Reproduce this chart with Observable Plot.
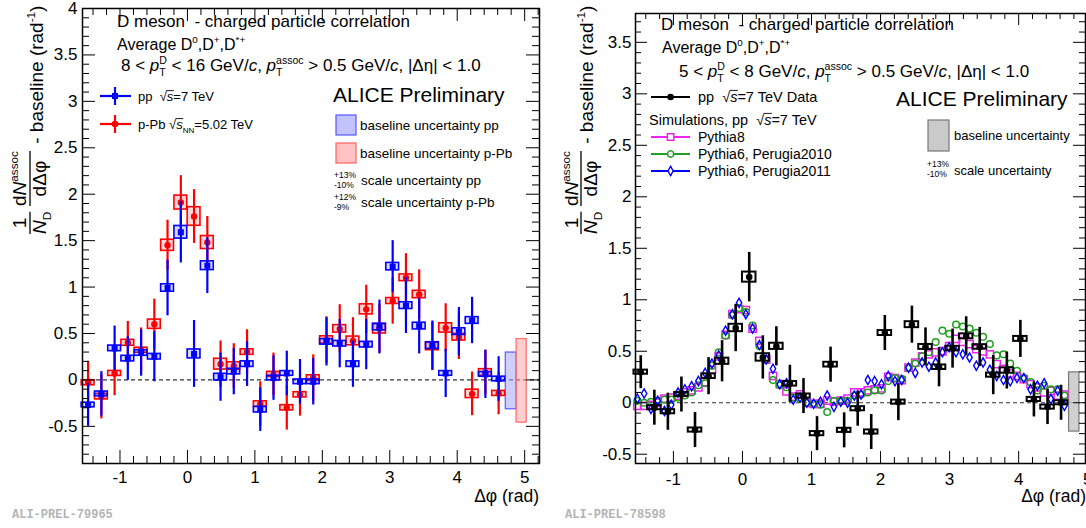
<!DOCTYPE html>
<html><head><meta charset="utf-8">
<script src="https://cdn.jsdelivr.net/npm/d3@7"></script>
<script src="https://cdn.jsdelivr.net/npm/@observablehq/plot@0.6"></script>
<style>
body{margin:0;background:#fff}
#wrap{display:flex;width:1086px;height:528px;overflow:hidden;background:#fff}
#wrap svg{display:block;flex:none}
</style></head><body><div id="wrap"></div>
<script>
// ---------------- data ----------------
const dphiBins = [-1.473,-1.276,-1.080,-0.884,-0.687,-0.491,-0.295,-0.098,0.098,0.295,0.491,0.687,0.884,1.080,1.276,1.473,1.669,1.865,2.062,2.258,2.454,2.651,2.847,3.043,3.240,3.436,3.632,3.829,4.025,4.221,4.418,4.614];
const dphiFine = [-1.522,-1.424,-1.325,-1.227,-1.129,-1.031,-0.933,-0.834,-0.736,-0.638,-0.540,-0.442,-0.344,-0.245,-0.147,-0.049,0.049,0.147,0.245,0.344,0.442,0.540,0.638,0.736,0.834,0.933,1.031,1.129,1.227,1.325,1.424,1.522,1.620,1.718,1.816,1.914,2.013,2.111,2.209,2.307,2.405,2.503,2.602,2.700,2.798,2.896,2.994,3.093,3.191,3.289,3.387,3.485,3.583,3.682,3.780,3.878,3.976,4.074,4.172,4.271,4.369,4.467,4.565,4.663];

// left panel: 8 < pT(D) < 16 GeV/c
const ppY    = [-0.27,-0.15,0.34,0.23,0.29,0.25,0.99,1.59,0.28,1.23,0.03,0.09,0.17,-0.32,0.02,0.07,-0.02,-0.02,0.41,0.39,0.17,0.38,0.57,1.22,0.80,0.58,0.37,0.07,0.52,0.64,0.06,0.01];
const ppStat = [0.23,0.24,0.24,0.235,0.25,0.27,0.30,0.33,0.36,0.30,0.26,0.25,0.24,0.235,0.24,0.24,0.24,0.25,0.26,0.26,0.25,0.27,0.29,0.28,0.30,0.30,0.265,0.26,0.26,0.25,0.26,0.24];
const ppSys  = [0.025,0.025,0.03,0.03,0.03,0.03,0.04,0.068,0.048,0.047,0.036,0.03,0.03,0.03,0.025,0.025,0.025,0.025,0.03,0.03,0.03,0.03,0.036,0.04,0.036,0.036,0.036,0.025,0.036,0.036,0.025,0.025];
const pPbY    = [-0.03,-0.18,0.07,0.40,0.32,0.60,1.45,1.91,1.76,1.48,0.17,0.15,0.30,-0.26,0.06,-0.30,-0.16,0.02,0.43,0.55,0.42,0.76,0.55,0.85,1.10,0.92,0.36,0.56,0.46,-0.15,0.08,-0.145];
const pPbStat = [0.23,0.24,0.24,0.23,0.24,0.27,0.27,0.29,0.29,0.28,0.25,0.24,0.24,0.24,0.23,0.24,0.23,0.25,0.25,0.26,0.25,0.26,0.26,0.25,0.26,0.265,0.26,0.26,0.24,0.235,0.24,0.23];
const pPbSys  = [0.027,0.03,0.027,0.032,0.027,0.05,0.06,0.075,0.10,0.07,0.058,0.04,0.03,0.03,0.027,0.028,0.028,0.03,0.04,0.04,0.047,0.054,0.05,0.032,0.036,0.04,0.04,0.05,0.036,0.045,0.036,0.027];
const baselineBandsL = [
  {name: "pp",   x1: 4.72, x2: 4.88, y1: -0.316, y2: 0.295},
  {name: "p-Pb", x1: 4.88, x2: 5.03, y1: -0.46,  y2: 0.44}
];

// right panel: 5 < pT(D) < 8 GeV/c
const dataY    = [0.297,-0.048,-0.087,0.08,-0.265,0.258,0.403,0.726,1.22,0.44,0.548,0.184,0.065,-0.30,0.37,-0.268,-0.058,-0.284,0.677,0.006,0.758,0.542,0.345,0.526,0.645,0.542,0.268,0.313,0.62,0.032,-0.042,0.0];
const dataStat = [0.16,0.17,0.18,0.17,0.17,0.18,0.20,0.23,0.24,0.21,0.19,0.18,0.17,0.165,0.17,0.17,0.17,0.17,0.17,0.18,0.18,0.185,0.19,0.19,0.19,0.19,0.19,0.18,0.18,0.17,0.17,0.17];
const dataSys  = [0.02,0.02,0.02,0.02,0.02,0.023,0.03,0.036,0.049,0.036,0.03,0.022,0.02,0.02,0.023,0.02,0.02,0.02,0.024,0.02,0.029,0.024,0.022,0.022,0.024,0.022,0.02,0.026,0.024,0.02,0.02,0.02];
const pythia8     = [-0.03,-0.03,-0.02,0.00,0.04,0.05,0.07,0.10,0.12,0.15,0.20,0.32,0.45,0.66,0.86,0.91,0.90,0.72,0.60,0.42,0.26,0.18,0.11,0.06,0.08,0.00,-0.01,-0.01,0.02,0.01,0.02,0.04,0.10,0.10,0.12,0.13,0.14,0.25,0.24,0.22,0.34,0.39,0.45,0.47,0.49,0.50,0.55,0.62,0.59,0.57,0.52,0.50,0.47,0.375,0.33,0.285,0.26,0.23,0.18,0.15,0.10,0.116,0.07,0.078];
const perugia2010 = [0.02,0.00,0.01,0.02,0.03,0.03,0.05,0.07,0.10,0.17,0.19,0.36,0.49,0.65,0.85,0.92,0.88,0.75,0.55,0.42,0.22,0.17,0.15,0.05,0.04,0.00,-0.01,-0.02,-0.09,0.02,0.02,0.02,0.07,0.08,0.10,0.12,0.12,0.21,0.24,0.23,0.34,0.38,0.45,0.49,0.59,0.70,0.67,0.76,0.74,0.72,0.68,0.64,0.57,0.46,0.47,0.38,0.31,0.24,0.20,0.12,0.165,0.13,0.13,0.07];
const perugia2011 = [0.04,0.09,-0.06,0.02,-0.08,-0.02,0.10,0.13,0.16,0.21,0.29,0.38,0.46,0.70,0.86,0.97,0.86,0.72,0.56,0.42,0.33,0.18,0.19,0.03,0.05,0.00,-0.01,0.01,0.07,-0.04,0.01,0.00,0.07,0.08,0.22,0.21,0.18,0.26,0.21,0.22,0.34,0.29,0.39,0.35,0.39,0.49,0.54,0.49,0.47,0.44,0.36,0.39,0.32,0.26,0.22,0.21,0.24,0.24,0.13,0.165,0.19,0.036,0.116,-0.03];
const baselineBandR = [{x1: 4.73, x2: 4.88, y1: -0.28, y2: 0.295}];

// tick labels
const xTickLabels  = [-1, 0, 1, 2, 3, 4, 5];
const yTickLabelsL = [-0.5, 0, 0.5, 1, 1.5, 2, 2.5, 3, 3.5, 4];
const yTickLabelsR = [-0.5, 0, 0.5, 1, 1.5, 2, 2.5, 3, 3.5];

// ---------------- helpers ----------------
const FONT = "'Liberation Sans', Arial, Helvetica, sans-serif";
const cv = document.createElement("canvas").getContext("2d");
function tw(t, size, italic) { cv.font = `${italic ? "italic " : ""}${size}px 'Liberation Sans'`; return cv.measureText(t).width; }
function rich(parent, x, y, segs, size, opts = {}) {
  const items = []; let cx = 0;
  for (let seg of segs) {
    if (typeof seg === "string") seg = {t: seg};
    if (seg.sup !== undefined || seg.sub !== undefined) {
      const ss = size * (seg.s || 0.62); let w = 0;
      if (seg.sup) { items.push({t: seg.sup, x: cx, dy: -size * 0.42, size: ss}); w = Math.max(w, tw(seg.sup, ss)); }
      if (seg.sub) { items.push({t: seg.sub, x: cx, dy: size * 0.27, size: ss}); w = Math.max(w, tw(seg.sub, ss)); }
      cx += w;
    } else {
      const sz = size * (seg.s || 1);
      const w = tw(seg.t, sz, seg.it);
      items.push({t: seg.t, x: cx, dy: 0, size: sz, it: seg.it, over: seg.over, w});
      cx += w;
    }
  }
  const off = opts.anchor === "end" ? -cx : opts.anchor === "middle" ? -cx / 2 : 0;
  const text = parent.append("text").attr("fill", opts.fill || "black").attr("font-family", opts.family || FONT)
    .attr("text-anchor", "start").attr("font-weight", opts.weight || null).style("white-space", "pre");
  for (const it of items) {
    text.append("tspan").attr("x", x + off + it.x).attr("y", y + it.dy).attr("font-size", it.size)
      .attr("text-anchor", "start").attr("font-style", it.it ? "italic" : null).text(it.t);
    if (it.over) {
      parent.append("line").attr("x1", x + off + it.x - 0.5).attr("x2", x + off + it.x + it.w + 0.5)
        .attr("y1", y - it.size * 0.8).attr("y2", y - it.size * 0.8).attr("stroke", opts.fill || "black").attr("stroke-width", 0.9);
    }
  }
  return cx;
}
const sqrtS = (sub) => ["√", {t: "s", it: true, over: true}].concat(sub ? [{sub}] : []);

function yTitle(g, yStart, xMain, xNum, xBar, xDen, fs) {
  const t = g.append("g").attr("transform", `translate(0,${yStart}) rotate(-90)`);
  const w1n = tw("1", fs), w1d = tw("N", fs, true) + tw("D", fs * 0.62);
  const w1 = Math.max(w1n, w1d);
  rich(t, (w1 - w1n) / 2, xNum, ["1"], fs);
  rich(t, (w1 - w1d) / 2, xDen, [{t: "N", it: true}, {sub: "D"}], fs);
  t.append("line").attr("x1", 0).attr("x2", w1).attr("y1", xBar).attr("y2", xBar).attr("stroke", "black").attr("stroke-width", 1.3);
  const x2 = w1 + fs * 0.3;
  const w2n = tw("d", fs) + tw("N", fs, true) + tw("assoc", fs * 0.62);
  const w2d = tw("dΔφ", fs);
  const w2 = Math.max(w2n, w2d);
  rich(t, x2 + (w2 - w2n) / 2, xNum, ["d", {t: "N", it: true}, {sup: "assoc"}], fs);
  rich(t, x2 + (w2 - w2d) / 2, xDen, ["dΔφ"], fs);
  t.append("line").attr("x1", x2).attr("x2", x2 + w2).attr("y1", xBar).attr("y2", xBar).attr("stroke", "black").attr("stroke-width", 1.3);
  rich(t, x2 + w2 + 2, xMain, [" - baseline (rad", {sup: "-1"}, ")"], fs);
}
function sym(g, type, x, y, size, fill, stroke) {
  g.append("path").attr("d", d3.symbol(type, size)()).attr("transform", `translate(${x},${y})`)
    .attr("fill", fill).attr("stroke", stroke || "none").attr("stroke-width", 1.4);
}
function hline(g, x1, x2, y, c, w) { g.append("line").attr("x1", x1).attr("x2", x2).attr("y1", y).attr("y2", y).attr("stroke", c).attr("stroke-width", w); }
function vline(g, x, y1, y2, c, w) { g.append("line").attr("x1", x).attr("x2", x).attr("y1", y1).attr("y2", y2).attr("stroke", c).attr("stroke-width", w); }

function frameTicks(xMajor, xMinor, yMajor, yMinor, pw, ph, lenMaj, lenMin) {
  return [
    Plot.tickX(xMajor, {x: d => d, insetTop: ph - lenMaj, stroke: "black"}),
    Plot.tickX(xMinor, {x: d => d, insetTop: ph - lenMin, stroke: "black"}),
    Plot.tickX(xMajor, {x: d => d, insetBottom: ph - lenMaj, stroke: "black"}),
    Plot.tickX(xMinor, {x: d => d, insetBottom: ph - lenMin, stroke: "black"}),
    Plot.tickY(yMajor, {y: d => d, insetRight: pw - lenMaj, stroke: "black"}),
    Plot.tickY(yMinor, {y: d => d, insetRight: pw - lenMin, stroke: "black"}),
    Plot.tickY(yMajor, {y: d => d, insetLeft: pw - lenMaj, stroke: "black"}),
    Plot.tickY(yMinor, {y: d => d, insetLeft: pw - lenMin, stroke: "black"})
  ];
}
const isMajor = (v, step) => Math.abs(v / step - Math.round(v / step)) < 1e-6;

// ---------------- left panel ----------------
const H = 528;
const L = {w: 546, ml: 82, mr: 7, mt: 8, mb: 65, xd: [-1.556, 5.22], yd: [-0.9, 4]};
const ppData  = dphiBins.map((x, i) => ({x, y: ppY[i],  e: ppStat[i],  s: ppSys[i]}));
const pPbData = dphiBins.map((x, i) => ({x, y: pPbY[i], e: pPbStat[i], s: pPbSys[i]}));
const HW = 0.095;
const xMinorL = d3.range(-1.4, 5.21, 0.2).map(v => +v.toFixed(2)).filter(v => !isMajor(v, 1));
const yMinorL = d3.range(-0.8, 3.95, 0.1).map(v => +v.toFixed(2)).filter(v => !isMajor(v, 0.5));

const legendL = () => {
  const g = d3.create("svg:g");
  rich(g, 117, 27, ["D meson  - charged particle correlation"], 17);
  rich(g, 117, 50, ["Average D", {sup: "0"}, ",D", {sup: "+"}, ",D", {sup: "*+"}], 16);
  rich(g, 121, 71, ["8 < ", {t: "p", it: true}, {sup: "D", sub: "T"}, " < 16 GeV/", {t: "c", it: true}, ", ",
    {t: "p", it: true}, {sup: "assoc", sub: "T"}, " > 0.5 GeV/", {t: "c", it: true}, ", |Δη| < 1.0"], 17);
  // pp entry
  hline(g, 100, 131, 96, "#0000ff", 2.2); vline(g, 115, 87, 105, "#0000ff", 2.2);
  sym(g, d3.symbolSquare, 115, 96, 38, "#0000ff");
  rich(g, 138, 101, ["pp  "].concat(sqrtS(), ["=7 TeV"]), 13);
  // p-Pb entry
  hline(g, 100, 131, 124, "#ff0000", 2.2); vline(g, 115, 115, 133, "#ff0000", 2.2);
  sym(g, d3.symbolCircle, 115, 124, 34, "#ff0000");
  rich(g, 138, 129, ["p-Pb "].concat(sqrtS("NN"), ["=5.02 TeV"]), 13);
  rich(g, 333, 102, ["ALICE Preliminary"], 21);
  g.append("rect").attr("x", 336).attr("y", 115).attr("width", 20).attr("height", 20).attr("fill", "#9a9aff").attr("fill-opacity", 0.6).attr("stroke", "#5555ff").attr("stroke-width", 1.2);
  rich(g, 360, 130, ["baseline uncertainty pp"], 13.5);
  g.append("rect").attr("x", 336).attr("y", 143).attr("width", 20).attr("height", 20).attr("fill", "#ff9a9a").attr("fill-opacity", 0.6).attr("stroke", "#ff6060").attr("stroke-width", 1.2);
  rich(g, 360, 158, ["baseline uncertainty p-Pb"], 13.5);
  rich(g, 334, 178, ["+13%"], 8.5); rich(g, 334, 188, ["-10%"], 8.5);
  rich(g, 361, 185, ["scale uncertainty pp"], 13.5);
  rich(g, 334, 200, ["+12%"], 8.5); rich(g, 334, 210, ["-9%"], 8.5);
  rich(g, 361, 207, ["scale uncertainty p-Pb"], 13.5);
  yTitle(g, 234, 43, 26, 30, 46, 19);
  rich(g, 539, 502, ["Δφ (rad)"], 17.5, {anchor: "end"});
  rich(g, 12, 518, ["ALI-PREL-79965"], 12, {family: "'Liberation Mono', 'DejaVu Sans Mono', monospace", fill: "#b4b4b4", weight: "bold"});
  return g.node();
};

const pwL = L.w - L.ml - L.mr, phL = H - L.mt - L.mb;
const left = Plot.plot({
  width: L.w, height: H, marginLeft: L.ml, marginRight: L.mr, marginTop: L.mt, marginBottom: L.mb,
  style: {fontFamily: FONT, fontSize: "17px", background: "white", color: "black", overflow: "visible"},
  x: {domain: L.xd, ticks: xTickLabels, tickSize: 0, tickPadding: 7, tickFormat: d => String(d), label: null},
  y: {domain: L.yd, ticks: yTickLabelsL, tickSize: 0, tickPadding: 5, tickFormat: d => String(d), label: null},
  marks: [
    Plot.ruleY([0], {stroke: "#333", strokeDasharray: "4,3", strokeWidth: 1.2}),
    Plot.rect(baselineBandsL.slice(0, 1), {x1: "x1", x2: "x2", y1: "y1", y2: "y2", fill: "#a8a8ff", fillOpacity: 0.55, stroke: "#5a5aff", strokeWidth: 1.2}),
    Plot.rect(baselineBandsL.slice(1), {x1: "x1", x2: "x2", y1: "y1", y2: "y2", fill: "#ffa8a8", fillOpacity: 0.55, stroke: "#ff6a6a", strokeWidth: 1.2}),
    Plot.ruleX(pPbData, {x: "x", y1: d => d.y - d.e, y2: d => d.y + d.e, stroke: "#ff0000", strokeWidth: 2.2}),
    Plot.rect(pPbData, {x1: d => d.x - HW, x2: d => d.x + HW, y1: d => d.y - d.s, y2: d => d.y + d.s, stroke: "#ff0000", fill: "#ff0000", fillOpacity: 0.15, strokeWidth: 1.6}),
    Plot.dot(pPbData, {x: "x", y: "y", r: 3.2, fill: "#ff0000", symbol: "circle"}),
    Plot.ruleX(ppData, {x: "x", y1: d => d.y - d.e, y2: d => d.y + d.e, stroke: "#0000ff", strokeWidth: 2.2}),
    Plot.rect(ppData, {x1: d => d.x - HW, x2: d => d.x + HW, y1: d => d.y - d.s, y2: d => d.y + d.s, stroke: "#0000ff", fill: "#0000ff", fillOpacity: 0.15, strokeWidth: 1.6}),
    Plot.dot(ppData, {x: "x", y: "y", r: 3.4, fill: "#0000ff", symbol: "square"}),
    ...frameTicks(xTickLabels, xMinorL, yTickLabelsL, yMinorL, pwL, phL, 13, 7),
    Plot.frame({stroke: "black", strokeWidth: 1.5}),
    legendL
  ]
});

// ---------------- right panel ----------------
const R = {w: 540, ml: 89, mr: 1, mt: 13, mb: 65, xd: [-1.549, 4.968], yd: [-0.59, 3.78]};
const dataPts = dphiBins.map((x, i) => ({x, y: dataY[i], e: dataStat[i], s: dataSys[i]}));
const sim = (arr) => dphiFine.map((x, i) => ({x, y: arr[i]}));
const HWR = 0.098;
const xMinorR = d3.range(-1.4, 4.95, 0.2).map(v => +v.toFixed(2)).filter(v => !isMajor(v, 1));
const yMinorR = d3.range(-0.5, 3.75, 0.1).map(v => +v.toFixed(2)).filter(v => !isMajor(v, 0.5));
const MAG = "#ee22ee", GRN = "#22a022", BLU = "#0000ff";

const legendR = () => {
  const g = d3.create("svg:g");
  rich(g, 115, 30, ["D meson  - charged particle correlation"], 17);
  rich(g, 116, 53, ["Average D", {sup: "0"}, ",D", {sup: "+"}, ",D", {sup: "*+"}], 16);
  rich(g, 133, 77, ["5 < ", {t: "p", it: true}, {sup: "D", sub: "T"}, " < 8 GeV/", {t: "c", it: true}, ", ",
    {t: "p", it: true}, {sup: "assoc", sub: "T"}, " > 0.5 GeV/", {t: "c", it: true}, ", |Δη| < 1.0"], 17);
  hline(g, 105, 144, 97, "black", 2);
  sym(g, d3.symbolCircle, 124.6, 97, 34, "black");
  rich(g, 152, 102, ["pp  "].concat(sqrtS(), ["=7 TeV Data"]), 14.5);
  rich(g, 103, 125, ["Simulations, pp  "].concat(sqrtS(), ["=7 TeV"]), 14.5);
  hline(g, 105, 144, 137, MAG, 2); vline(g, 124.6, 133, 141, MAG, 1.4);
  sym(g, d3.symbolSquare, 124.6, 137, 42, "white", MAG);
  rich(g, 152, 142, ["Pythia8"], 14);
  hline(g, 105, 144, 154, GRN, 2); vline(g, 124.6, 150, 158, GRN, 1.4);
  sym(g, d3.symbolCircle, 124.6, 154, 30, "white", GRN);
  rich(g, 152, 159, ["Pythia6, Perugia2010"], 14);
  hline(g, 105, 144, 171, BLU, 2); vline(g, 124.6, 166, 176, BLU, 1.4);
  sym(g, d3.symbolDiamond, 124.6, 171, 24, "white", BLU);
  rich(g, 152, 176, ["Pythia6, Perugia2011"], 14);
  rich(g, 350, 106, ["ALICE Preliminary"], 21);
  g.append("rect").attr("x", 382).attr("y", 120).attr("width", 21).attr("height", 31).attr("fill", "#bdbdbd").attr("fill-opacity", 0.8).attr("stroke", "#777").attr("stroke-width", 1.2);
  rich(g, 408, 140, ["baseline uncertainty"], 13);
  rich(g, 381, 167, ["+13%"], 8.5); rich(g, 381, 177, ["-10%"], 8.5);
  rich(g, 408, 175, ["scale uncertainty"], 13);
  yTitle(g, 234, 47, 32, 35, 51, 19);
  rich(g, 540, 502, ["Δφ (rad)"], 17.5, {anchor: "end"});
  rich(g, 19, 518, ["ALI-PREL-78598"], 12, {family: "'Liberation Mono', 'DejaVu Sans Mono', monospace", fill: "#b4b4b4", weight: "bold"});
  return g.node();
};

const pwR = R.w - R.ml - R.mr, phR = H - R.mt - R.mb;
const right = Plot.plot({
  width: R.w, height: H, marginLeft: R.ml, marginRight: R.mr, marginTop: R.mt, marginBottom: R.mb,
  style: {fontFamily: FONT, fontSize: "17px", background: "white", color: "black", overflow: "visible"},
  x: {domain: R.xd, ticks: xTickLabels, tickSize: 0, tickPadding: 9, tickFormat: d => String(d), label: null},
  y: {domain: R.yd, ticks: yTickLabelsR, tickSize: 0, tickPadding: 4, tickFormat: d => String(d), label: null},
  marks: [
    Plot.ruleY([0], {stroke: "#333", strokeDasharray: "4,3", strokeWidth: 1.2}),
    Plot.rect(baselineBandR, {x1: "x1", x2: "x2", y1: "y1", y2: "y2", fill: "#c4c4c4", fillOpacity: 0.8, stroke: "#777", strokeWidth: 1.2}),
    Plot.dot(sim(pythia8), {x: "x", y: "y", symbol: "square", r: 4.1, fill: "none", stroke: MAG, strokeWidth: 1.5}),
    Plot.dot(sim(perugia2010), {x: "x", y: "y", symbol: "circle", r: 3.3, fill: "none", stroke: GRN, strokeWidth: 1.5}),
    Plot.dot(sim(perugia2011), {x: "x", y: "y", symbol: "diamond", r: 2.8, fill: "none", stroke: BLU, strokeWidth: 1.4}),
    Plot.ruleX(dataPts, {x: "x", y1: d => d.y - d.e, y2: d => d.y + d.e, stroke: "black", strokeWidth: 2.6}),
    Plot.rect(dataPts, {x1: d => d.x - HWR, x2: d => d.x + HWR, y1: d => d.y - d.s, y2: d => d.y + d.s, stroke: "black", fill: "none", strokeWidth: 2}),
    Plot.dot(dataPts, {x: "x", y: "y", r: 3.3, fill: "black", symbol: "circle"}),
    ...frameTicks(xTickLabels.filter(v => v < 4.97), xMinorR, yTickLabelsR, yMinorR, pwR, phR, 12, 6),
    Plot.frame({stroke: "black", strokeWidth: 1.5}),
    legendR
  ]
});

const wrap = document.getElementById("wrap");
wrap.appendChild(left);
wrap.appendChild(right);
</script></body></html>
